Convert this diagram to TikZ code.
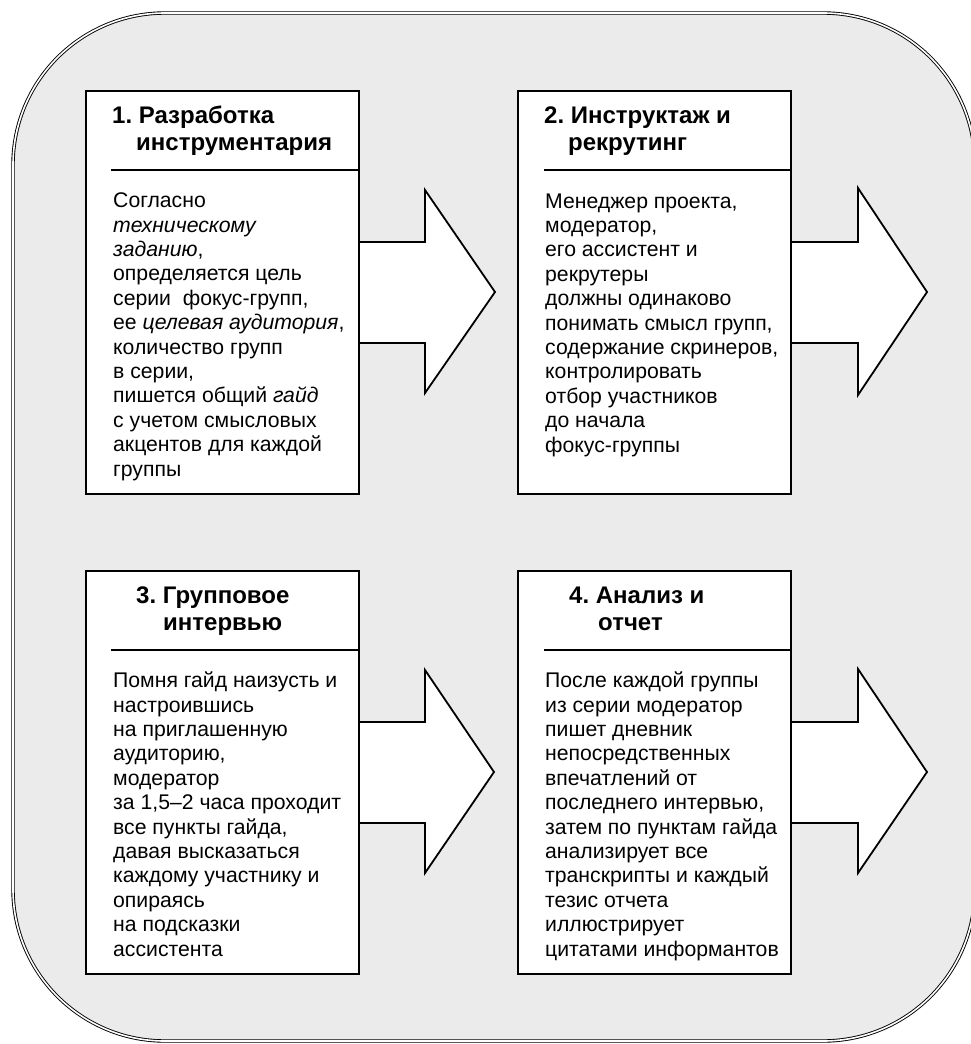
\documentclass[tikz,border=0pt]{standalone}
\usepackage{fontspec}
\setmainfont{Liberation Sans}
\definecolor{bggray}{HTML}{EBEBEB}
\frenchspacing
\begin{document}
\begin{tikzpicture}[x=1pt,y=-1pt]
\useasboundingbox (0,0) rectangle (970,1044);
\tikzset{
 outer/.style={draw=black, line width=0.9pt, double=white, double distance=1.6pt, fill=bggray, rounded corners=152pt},
 stepbox/.style={draw=black, line width=2.2pt, fill=white, rectangle, minimum width=273pt, minimum height=403pt, anchor=north west, inner sep=0pt},
 bigarrow/.style={draw=black, line width=1.8pt, fill=white, line join=miter},
 sepline/.style={draw=black, line width=2pt},
 head/.style={font=\fontsize{24}{27}\selectfont\bfseries, anchor=base west, align=left, inner sep=0pt},
 body/.style={font=\fontsize{21.2}{24.4}\selectfont, anchor=base west, align=left, inner sep=0pt},
}
% outer frame
\draw[outer] (13,13) rectangle (975,1041);
% box corner points used by the arrows
\coordinate (c1) at (358,90);
\coordinate (c2) at (790,90);
\coordinate (c3) at (358,570);
\coordinate (c4) at (790,570);
% arrows
\draw[bigarrow] (c1) ++(0,152) -- ++(67,0) -- ++(0,-52) -- ++(70,102) -- ++(-70,101) -- ++(0,-50) -- ++(-67,0) -- cycle;
\draw[bigarrow] (c2) ++(0,152) -- ++(68,0) -- ++(0,-54) -- ++(69,104) -- ++(-69,103) -- ++(0,-52) -- ++(-68,0) -- cycle;
\draw[bigarrow] (c3) ++(0,152) -- ++(67,0) -- ++(0,-52) -- ++(69,102) -- ++(-69,101) -- ++(0,-50) -- ++(-67,0) -- cycle;
\draw[bigarrow] (c4) ++(0,152) -- ++(68,0) -- ++(0,-53) -- ++(69,103) -- ++(-69,101) -- ++(0,-50) -- ++(-68,0) -- cycle;
% boxes
\node[stepbox] (b1) at (85,90) {};
\node[stepbox] (b2) at (517,90) {};
\node[stepbox] (b3) at (85,570) {};
\node[stepbox] (b4) at (517,570) {};
% separators
\draw[sepline] (b1.north east) ++(0,80) -- ++(-249,0);
\draw[sepline] (b2.north east) ++(0,80) -- ++(-248,0);
\draw[sepline] (b3.north east) ++(0,80) -- ++(-249,0);
\draw[sepline] (b4.north east) ++(0,80) -- ++(-248,0);
% headers (anchor = baseline of last line)
\node[head] (h1) at (112,150) {1. Разработка\\\hspace*{24pt}инструментария};
\node[head] (h2) at (544,150) {2. Инструктаж и\\\hspace*{24pt}рекрутинг};
\node[head] (h3) at (136,630) {3. Групповое\\\hspace*{27pt}интервью};
\node[head] (h4) at (569,630) {4. Анализ и\\\hspace*{29pt}отчет};
% bodies (anchor = baseline of last line)
\node[body] (t1) at (113,476) {Согласно\\
\textit{техническому}\\
\textit{заданию},\\
определяется цель\\
серии\ \ фокус-групп,\\
ее \textit{целевая аудитория},\\
количество групп\\
в серии,\\
пишется общий \textit{гайд}\\
с учетом смысловых\\
акцентов для каждой\\
группы};
\node[body] (t2) at (545,452) {Менеджер проекта,\\
модератор,\\
его ассистент и\\
рекрутеры\\
должны одинаково\\
понимать смысл групп,\\
содержание скринеров,\\
контролировать\\
отбор участников\\
до начала\\
фокус-группы};
\node[body] (t3) at (113,956) {Помня гайд наизусть и\\
настроившись\\
на приглашенную\\
аудиторию,\\
модератор\\
за 1,5–2 часа проходит\\
все пункты гайда,\\
давая высказаться\\
каждому участнику и\\
опираясь\\
на подсказки\\
ассистента};
\node[body] (t4) at (545,956) {После каждой группы\\
из серии модератор\\
пишет дневник\\
непосредственных\\
впечатлений от\\
последнего интервью,\\
затем по пунктам гайда\\
анализирует все\\
транскрипты и каждый\\
тезис отчета\\
иллюстрирует\\
цитатами информантов};
\end{tikzpicture}
\end{document}
